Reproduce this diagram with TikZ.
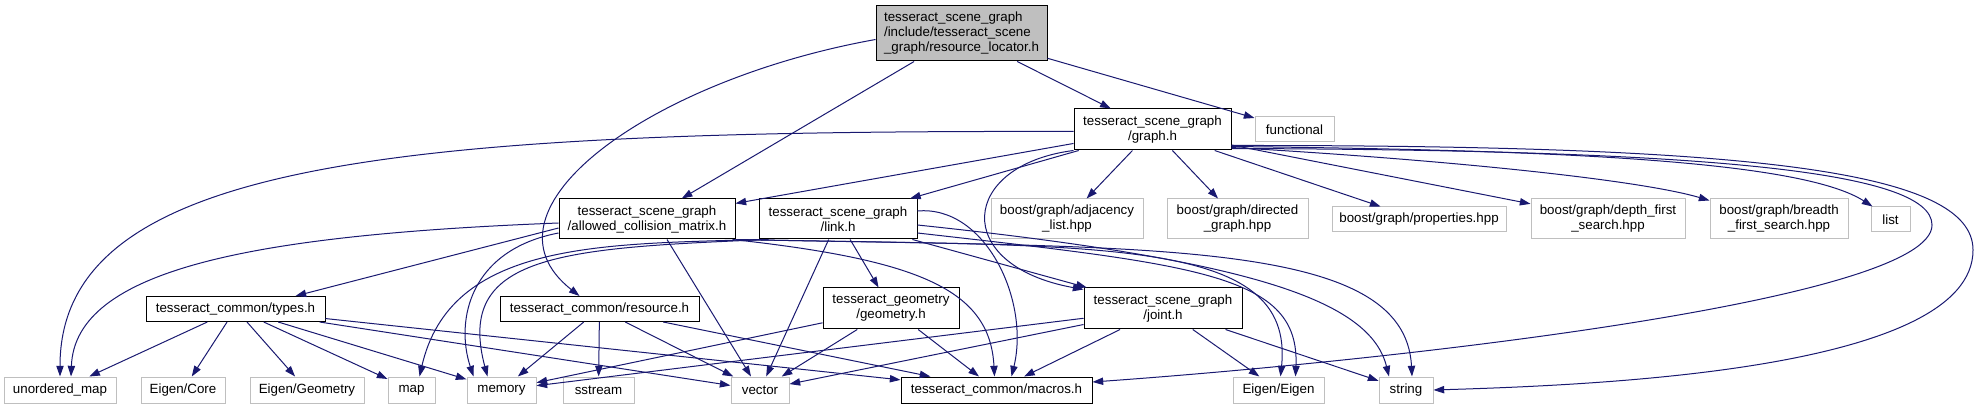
\documentclass[tikz,border=0pt]{standalone}
\usepackage{fontspec}
\setmainfont{Liberation Sans}
\usepackage{tikz}
\usetikzlibrary{arrows.meta,calc}
\definecolor{edgeblue}{RGB}{25,25,112}
\definecolor{greyline}{RGB}{191,191,191}

\begin{document}
\begin{tikzpicture}[x=0.75pt,y=0.75pt,yscale=-1,xscale=1,
    incl/.style={draw=black,line width=0.75pt,fill=white,align=center,inner sep=1pt,font=\fontsize{10}{11.25}\selectfont},
    sysh/.style={incl,draw=greyline},
    rooth/.style={incl,fill=greyline,align=left},
    dep/.style={draw=edgeblue,line width=0.75pt,-{Triangle[length=8pt,width=5.5pt]}}]
\useasboundingbox (0,0) rectangle (1979,409);

% Text Node
\node[rooth,minimum width=128.25pt,minimum height=41.25pt] (root) at (961.5,33.5) {tesseract\_scene\_graph\\/include/tesseract\_scene\\\_graph/resource\_locator.h};
% Text Node
\node[incl,minimum width=117.75pt,minimum height=30.75pt] (graph) at (1152.5,129.5) {tesseract\_scene\_graph\\/graph.h};
% Text Node
\node[sysh,minimum width=59.25pt,minimum height=18.75pt] (functional) at (1294.5,129.5) {functional};
% Text Node
\node[incl,minimum width=132pt,minimum height=30pt] (acm) at (647,219) {tesseract\_scene\_graph\\/allowed\_collision\_matrix.h};
% Text Node
\node[incl,minimum width=118.5pt,minimum height=30pt] (link) at (838,219) {tesseract\_scene\_graph\\/link.h};
% Text Node
\node[sysh,minimum width=114pt,minimum height=30pt] (adjlist) at (1067,219) {boost/graph/adjacency\\\_list.hpp};
% Text Node
\node[sysh,minimum width=105.75pt,minimum height=30pt] (dirgraph) at (1237.5,219) {boost/graph/directed\\\_graph.hpp};
% Text Node
\node[sysh,minimum width=130.5pt,minimum height=18.75pt] (props) at (1419,219.5) {boost/graph/properties.hpp};
% Text Node
\node[sysh,minimum width=115.5pt,minimum height=30pt] (dfs) at (1608,219) {boost/graph/depth\_first\\\_search.hpp};
% Text Node
\node[sysh,minimum width=103.5pt,minimum height=30pt] (bfs) at (1779,219) {boost/graph/breadth\\\_first\_search.hpp};
% Text Node
\node[sysh,minimum width=29.25pt,minimum height=18.75pt] (list) at (1890.5,219.5) {list};
% Text Node
\node[incl,minimum width=134.25pt,minimum height=18.75pt] (types) at (235.5,309) {tesseract\_common/types.h};
% Text Node
\node[incl,minimum width=149.25pt,minimum height=18.75pt] (resource) at (599.5,309) {tesseract\_common/resource.h};
% Text Node
\node[incl,minimum width=102pt,minimum height=30.75pt] (geometry) at (891,308.5) {tesseract\_geometry\\/geometry.h};
% Text Node
\node[incl,minimum width=118.5pt,minimum height=30.75pt] (joint) at (1163,308.5) {tesseract\_scene\_graph\\/joint.h};
% Text Node
\node[sysh,minimum width=84pt,minimum height=19.5pt] (umap) at (60,390) {unordered\_map};
% Text Node
\node[sysh,minimum width=63pt,minimum height=19.5pt] (eigencore) at (183,390) {Eigen/Core};
% Text Node
\node[sysh,minimum width=85.5pt,minimum height=19.5pt] (eigengeom) at (307,390) {Eigen/Geometry};
% Text Node
\node[sysh,minimum width=35.25pt,minimum height=19.5pt] (map) at (411.5,390) {map};
% Text Node
\node[sysh,minimum width=51.75pt,minimum height=19.5pt] (memory) at (501.5,390) {memory};
% Text Node
\node[sysh,minimum width=53.25pt,minimum height=19.5pt] (sstream) at (598.5,390) {sstream};
% Text Node
\node[sysh,minimum width=43.5pt,minimum height=19.5pt] (vector) at (760,390) {vector};
% Text Node
\node[incl,minimum width=143.25pt,minimum height=19.5pt] (macros) at (996.5,390) {tesseract\_common/macros.h};
% Text Node
\node[sysh,minimum width=68.25pt,minimum height=19.5pt] (eigen) at (1278.5,390) {Eigen/Eigen};
% Text Node
\node[sysh,minimum width=40.5pt,minimum height=19.5pt] (string) at (1406,390) {string};

%Straight Lines
\draw[dep] (root) -- (graph);
\draw[dep] (root) -- (functional);
\draw[dep] (root) -- (acm);
%Curve Lines
\draw[dep] ($(root.west)+(0,6)$) .. controls (650,80) and (470,210) .. ($(resource.north)+(-20,0)$);

%Straight Lines
\draw[dep] (graph) -- (acm);
\draw[dep] (graph) -- (link);
\draw[dep] (graph) -- (adjlist);
\draw[dep] (graph) -- (dirgraph);
\draw[dep] (graph) -- (props);
\draw[dep] (graph) -- (dfs);
%Curve Lines
\draw[dep] ($(graph.south east)+(0,-3)$) .. controls (1450,160) and (1640,180) .. ($(bfs.north west)+(0,2)$);
\draw[dep] ($(graph.south east)+(0,-4)$) .. controls (1550,150) and (1800,160) .. ($(list.north west)+(2,0)$);
\draw[dep] ($(graph.west)+(0,2)$) .. controls (400,130) and (60,160) .. (umap.north);
\draw[dep] (graph.south west) .. controls (960,165) and (950,265) .. ($(joint.north west)+(0,2)$);
\draw[dep] ($(graph.south east)+(0,-2)$) .. controls (1700,150) and (1932,170) .. (1932,225) .. controls (1932,300) and (1400,360) .. ($(macros.east)+(0,-8)$);
\draw[dep] ($(graph.south east)+(0,-5)$) .. controls (1750,145) and (1973,170) .. (1973,250) .. controls (1973,370) and (1600,385) .. (string.east);

%Curve Lines
\draw[dep] ($(acm.west)+(0,4)$) .. controls (250,235) and (75,270) .. ($(umap.north)+(11,0)$);
\draw[dep] ($(acm.west)+(0,9)$) -- ($(types.north)+(60,0)$);
\draw[dep] ($(acm.west)+(0,14)$) .. controls (470,250) and (455,320) .. ($(memory.north)+(-28,0)$);
\draw[dep] ($(acm.south)+(20,0)$) -- ($(vector.north)+(-9,0)$);
\draw[dep] ($(acm.south east)+(-3,0)$) .. controls (920,260) and (990,290) .. ($(macros.north)+(-2,0)$);
\draw[dep] (acm.south east) .. controls (1100,247) and (1295,235) .. ($(eigen.north)+(2,0)$);
\draw[dep] (acm.south east) .. controls (1150,248) and (1405,238) .. ($(string.north)+(6,0)$);

%Straight Lines
\draw[dep] (link) -- (joint);
\draw[dep] (link) -- (geometry);
\draw[dep] (link) -- (vector);
%Curve Lines
\draw[dep] ($(link.east)+(0,-8)$) .. controls (985,205) and (1030,300) .. ($(macros.north)+(15,0)$);
\draw[dep] ($(link.east)+(0,14)$) .. controls (1200,265) and (1300,275) .. ($(eigen.north)+(17,0)$);
\draw[dep] ($(link.east)+(0,6)$) .. controls (1250,260) and (1370,300) .. ($(string.north)+(-17,0)$);
\draw[dep] ($(link.south west)+(4,0)$) .. controls (600,244) and (450,242) .. ($(map.north)+(8,0)$);
\draw[dep] ($(link.south west)+(10,0)$) .. controls (560,248) and (455,255) .. ($(memory.north)+(-14,0)$);

%Straight Lines
\draw[dep] (joint) -- (vector);
\draw[dep] (joint) -- (memory);
\draw[dep] (joint) -- (macros);
\draw[dep] (joint) -- (eigen);
\draw[dep] (joint) -- (string);

%Straight Lines
\draw[dep] (geometry) -- (memory);
\draw[dep] (geometry) -- (vector);
\draw[dep] (geometry) -- (macros);

%Straight Lines
\draw[dep] (types) -- (umap);
\draw[dep] (types) -- (eigencore);
\draw[dep] (types) -- (eigengeom);
\draw[dep] (types) -- (map);
\draw[dep] (types) -- (memory);
\draw[dep] (types) -- (vector);
\draw[dep] (types) -- (macros);

%Straight Lines
\draw[dep] (resource) -- (memory);
\draw[dep] (resource) -- (sstream);
\draw[dep] (resource) -- (vector);
\draw[dep] (resource) -- (macros);
\end{tikzpicture}
\end{document}
